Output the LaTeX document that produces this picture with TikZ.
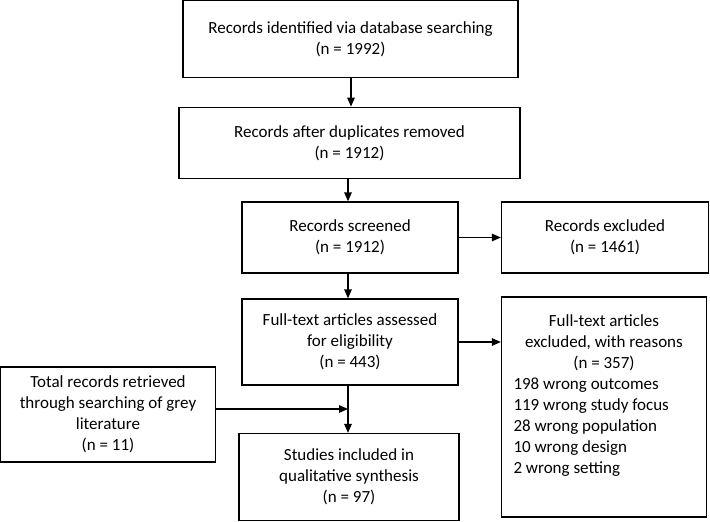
\documentclass[tikz,border=0pt]{standalone}
\usepackage{fontspec}
\setmainfont{Carlito}
\usetikzlibrary{arrows.meta}

\begin{document}
\begin{tikzpicture}[x=1pt, y=-1pt, font=\fontsize{17}{21}\selectfont,
    box/.style = {draw, line width=1.3pt, inner sep=0pt, align=center},
    arr/.style = {line width=1.3pt, -{Triangle[length=9pt,width=7.5pt]}}]
    \useasboundingbox (0,0) rectangle (710,522);

    \node[box, minimum width=335pt, minimum height=77pt] (ident) at (350.5,39.2) {Records identified via database searching\\(n = 1992)};
    \node[box, minimum width=341pt, minimum height=71pt] (dup) at (349.5,142.8) {Records after duplicates removed\\(n = 1912)};
    \node[box, minimum width=216pt, minimum height=71pt] (screen) at (350,237.5) {Records screened\\(n = 1912)};
    \node[box, minimum width=207pt, minimum height=71pt] (excl) at (605,237.5) {Records excluded\\(n = 1461)};
    \node[box, minimum width=216pt, minimum height=86pt] (full) at (350,342) {Full-text articles assessed\\for eligibility\\(n = 443)};
    \node[box, minimum width=205pt, minimum height=220pt] (reasons) at (604,407) {\parbox[c][210pt][t]{181pt}{\vspace*{13pt}\centering
        Full-text articles\\excluded, with reasons\\(n = 357)\\
        \raggedright 198 wrong outcomes\\119 wrong study focus\\28 wrong population\\10 wrong design\\2 wrong setting}};
    \node[box, minimum width=214.5pt, minimum height=95pt] (grey) at (108,414.5) {Total records retrieved\\through searching of grey\\literature\\(n = 11)};
    \node[box, minimum width=220pt, minimum height=87pt] (incl) at (349,477) {Studies included in\\qualitative synthesis\\(n = 97)};
    \coordinate (join) at (348,409);

    \draw[arr] (ident.south -| 351,0) -- (dup.north -| 351,0);
    \draw[arr] (dup.south -| join) -- (screen.north -| join);
    \draw[arr] (screen) -- (excl);
    \draw[arr] (screen.south -| join) -- (full.north -| join);
    \draw[arr] (full) -- (reasons.west |- full);
    \draw[arr] (full.south -| join) -- (incl.north -| join);
    \draw[arr] (grey.east |- join) -- (join);
\end{tikzpicture}
\end{document}
